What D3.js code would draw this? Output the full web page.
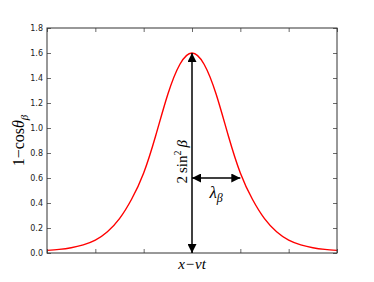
<!DOCTYPE html>
<html>
<head>
<meta charset="utf-8">
<script src="https://cdn.jsdelivr.net/npm/d3@7"></script>
<style>
body { margin: 0; background: #fff; }
svg { display: block; }
</style>
</head>
<body>
<svg id="chart" width="374" height="282"></svg>
<script>
// curve (x in tick units, y = 1 - cos theta)
var xVals = [-3, -2.75, -2.5, -2.25, -2, -1.75, -1.5, -1.25, -1, -0.75, -0.5, -0.25, 0,
             0.25, 0.5, 0.75, 1, 1.25, 1.5, 1.75, 2, 2.25, 2.5, 2.75, 3];
var yVals = [0.021, 0.029, 0.042, 0.065, 0.103, 0.17, 0.275, 0.43, 0.64, 0.94, 1.27, 1.51, 1.60,
             1.51, 1.27, 0.94, 0.64, 0.43, 0.275, 0.17, 0.103, 0.065, 0.042, 0.029, 0.021];
var yTicks = [0, 0.2, 0.4, 0.6, 0.8, 1.0, 1.2, 1.4, 1.6, 1.8];
var xTicks = [-3, -2, -1, 0, 1, 2, 3];

// annotations
var peakX = 0, peakY = 1.6;
var widthY = 0.6, widthX0 = 0, widthX1 = 1;

var svg = d3.select('#chart');
var pLeft = 47, pRight = 337, pTop = 28, pBottom = 253;

var x = d3.scaleLinear().domain([-3, 3]).range([pLeft, pRight]);
var y = d3.scaleLinear().domain([0, 1.8]).range([pBottom, pTop]);

var defs = svg.append('defs');
defs.append('marker')
	.attr('id','head')
	.attr('viewBox','0 0 10 10')
	.attr('refX',10).attr('refY',5)
	.attr('markerWidth',10).attr('markerHeight',9)
	.attr('markerUnits','userSpaceOnUse')
	.attr('orient','auto-start-reverse')
	.append('path')
	.attr('d','M0,0 L10,5 L0,10 Z')
	.attr('fill','black');

// curve
var line = d3.line()
	.x(function(d){return x(d[0]);})
	.y(function(d){return y(d[1]);})
	.curve(d3.curveNatural);

svg.append('path')
	.datum(d3.zip(xVals, yVals))
	.attr('d', line)
	.attr('fill','none')
	.attr('stroke','red')
	.attr('stroke-width',1.4);

// axes: ticks inward on all four sides
var axL = svg.append('g').attr('transform','translate('+pLeft+',0)')
	.call(d3.axisLeft(y).tickValues(yTicks).tickSizeInner(-4).tickSizeOuter(0).tickPadding(4)
		.tickFormat(d3.format('.1f')));
var axR = svg.append('g').attr('transform','translate('+pRight+',0)')
	.call(d3.axisRight(y).tickValues(yTicks).tickSizeInner(-4).tickSizeOuter(0).tickFormat(''));
var axB = svg.append('g').attr('transform','translate(0,'+pBottom+')')
	.call(d3.axisBottom(x).tickValues(xTicks).tickSizeInner(-4).tickSizeOuter(0).tickFormat(''));
var axT = svg.append('g').attr('transform','translate(0,'+pTop+')')
	.call(d3.axisTop(x).tickValues(xTicks).tickSizeInner(-4).tickSizeOuter(0).tickFormat(''));

[axL, axR, axB, axT].forEach(function(g){
	g.select('.domain').remove();
	g.selectAll('line').attr('stroke','#444').attr('stroke-width',0.8);
	g.selectAll('text').attr('font-family','DejaVu Sans, sans-serif').attr('font-size','8px').attr('fill','#222');
});

svg.append('rect')
	.attr('x',pLeft).attr('y',pTop)
	.attr('width',pRight-pLeft).attr('height',pBottom-pTop)
	.attr('fill','none')
	.attr('stroke','#333')
	.attr('stroke-width',1);

// arrows
svg.append('line')
	.attr('x1',x(peakX)).attr('y1',y(0))
	.attr('x2',x(peakX)).attr('y2',y(peakY))
	.attr('stroke','black').attr('stroke-width',1.5)
	.attr('marker-start','url(#head)')
	.attr('marker-end','url(#head)');

svg.append('line')
	.attr('x1',x(widthX0)).attr('y1',y(widthY))
	.attr('x2',x(widthX1)).attr('y2',y(widthY))
	.attr('stroke','black').attr('stroke-width',1.5)
	.attr('marker-start','url(#head)')
	.attr('marker-end','url(#head)');

var serif = 'Liberation Serif, DejaVu Serif, serif';

// 2 sin^2 beta
var t1 = svg.append('text')
	.attr('transform','translate('+(x(peakX)-5)+','+y(0.73)+') rotate(-90)')
	.attr('text-anchor','middle')
	.attr('font-family',serif)
	.attr('font-size','15px');
t1.append('tspan').text('2\u2009sin');
t1.append('tspan').attr('dy',-6).attr('font-size','10px').text('2');
t1.append('tspan').attr('dy',6).attr('font-style','italic').text('\u2009\u03b2');

// lambda_beta
var t2 = svg.append('text')
	.attr('x',(x(widthX0)+x(widthX1))/2)
	.attr('y',y(widthY)+20)
	.attr('text-anchor','middle')
	.attr('font-family',serif)
	.attr('font-size','17px');
t2.append('tspan').attr('font-style','italic').text('\u03bb');
t2.append('tspan').attr('dy',4).attr('font-size','12px').attr('font-style','italic').text('\u03b2');

// axis labels
var t3 = svg.append('text')
	.attr('transform','translate(24,'+((pTop+pBottom)/2)+') rotate(-90)')
	.attr('text-anchor','middle')
	.attr('font-family',serif)
	.attr('font-size','16px');
t3.append('tspan').text('1\u2212cos');
t3.append('tspan').attr('font-style','italic').text('\u03b8');
t3.append('tspan').attr('dy',4).attr('font-size','11px').attr('font-style','italic').text('\u03b2');

svg.append('text')
	.attr('x',x(0))
	.attr('y',pBottom+16)
	.attr('text-anchor','middle')
	.attr('font-family',serif)
	.attr('font-size','15px')
	.attr('font-style','italic')
	.text('x\u2212vt');
</script>
</body>
</html>
